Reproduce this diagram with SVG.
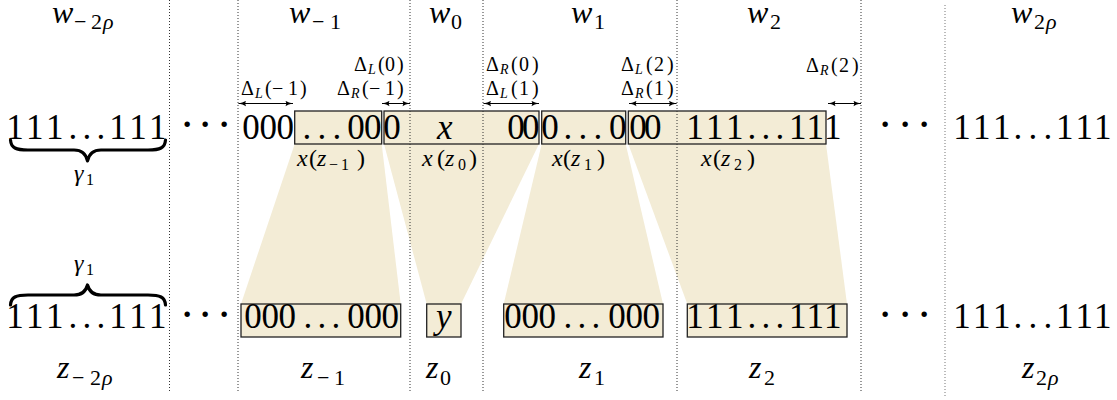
<svg xmlns="http://www.w3.org/2000/svg" width="1117" height="400" viewBox="0 0 1117 400">
<defs>
<marker id="ah" viewBox="0 0 8 6" refX="7.6" refY="3" markerWidth="8" markerHeight="6" orient="auto-start-reverse" markerUnits="userSpaceOnUse">
<path d="M0,0.2 Q3,2.4 8,3 Q3,3.6 0,5.8 Q1.6,3 0,0.2Z" fill="#000"/>
</marker>
</defs>
<rect width="1117" height="400" fill="#fff"/>

<g id="connectors" fill="#f3ecd6" stroke="none">
<polygon points="294.7,144 381.7,144 400.7,304 241,304"/>
<polygon points="384,144 539,144 461,304 426.7,304"/>
<polygon points="541.7,144 625.7,144 663,304 503.7,304"/>
<polygon points="628.3,144 826,144 847,304 687.3,304"/>
</g>

<g id="top-boxes" fill="#f3ecd6" stroke="#222" stroke-width="1.3">
<rect id="xz-1" x="294.7" y="111" width="87" height="33"/>
<rect id="xz0" x="384" y="111" width="155" height="33"/>
<rect id="xz1" x="541.7" y="111" width="84" height="33"/>
<rect id="xz2" x="628.3" y="111" width="197.7" height="33"/>
</g>
<g id="bottom-boxes" fill="#f3ecd6" stroke="#222" stroke-width="1.3">
<rect id="bz-1" x="241" y="304" width="159.7" height="33"/>
<rect id="bz0" x="426.7" y="304" width="34.3" height="33"/>
<rect id="bz1" x="503.7" y="304" width="159.3" height="33"/>
<rect id="bz2" x="687.3" y="304" width="159.7" height="33"/>
</g>

<g id="separators" stroke="#333" stroke-width="1" stroke-dasharray="1 2" fill="none">
<line x1="169.5" y1="0" x2="169.5" y2="393"/>
<line x1="238" y1="0" x2="238" y2="393"/>
<line x1="410" y1="0" x2="410" y2="393"/>
<line x1="483" y1="0" x2="483" y2="393"/>
<line x1="677" y1="0" x2="677" y2="393"/>
<line x1="861" y1="0" x2="861" y2="393"/>
<line x1="945" y1="5" x2="945" y2="397" stroke="#777"/>
</g>

<g id="dimension-arrows" stroke="#000" stroke-width="1" fill="none" marker-start="url(#ah)" marker-end="url(#ah)">
<line x1="238.5" y1="103.5" x2="293" y2="103.5"/>
<line x1="382" y1="103.5" x2="410" y2="103.5"/>
<line x1="483.5" y1="103.5" x2="539" y2="103.5"/>
<line x1="629" y1="103.5" x2="676.5" y2="103.5"/>
<line x1="828" y1="103.5" x2="861" y2="103.5"/>
</g>

<g id="braces">
<g fill="none" stroke="#000" stroke-width="3.2" stroke-linecap="round" stroke-linejoin="round">
<path d="M10.5,140 C11,148 16,150 28,150 L74,150 C82,150 86,154 87.5,161 C89,154 93,150 101,150 L148,150 C160,150 165,148 165.5,140"/>
<path d="M10.5,305 C11,297 16,295 28,295 L74,295 C82,295 86,291 87.5,285 C89,291 93,295 101,295 L148,295 C160,295 165,297 165.5,305"/>
</g>
<text style="font-family:'Liberation Serif',serif !important;font-style:italic;font-size:24px" x="74" y="181">γ<tspan style="font-family:'Liberation Serif',serif !important;font-style:normal;font-size:16px" x="86" y="185">1</tspan></text>
<text style="font-family:'Liberation Serif',serif !important;font-style:italic;font-size:24px" x="74" y="271">γ<tspan style="font-family:'Liberation Serif',serif !important;font-style:normal;font-size:16px" x="86" y="275">1</tspan></text>
</g>

<g id="w-labels">
<text style="font-family:'Liberation Serif',serif !important;font-style:italic;font-size:32px" x="52" y="23">w<tspan style="font-family:'Liberation Serif',serif !important;font-style:normal;font-size:22px" x="74" y="29">−</tspan><tspan style="font-family:'Liberation Serif',serif !important;font-style:normal;font-size:22px" x="91" y="29">2</tspan><tspan style="font-family:'Liberation Serif',serif !important;font-size:22px" x="103" y="29">ρ</tspan></text>
<text style="font-family:'Liberation Serif',serif !important;font-style:italic;font-size:32px" x="289" y="23">w<tspan style="font-family:'Liberation Serif',serif !important;font-style:normal;font-size:22px" x="312" y="29">−</tspan><tspan style="font-family:'Liberation Serif',serif !important;font-style:normal;font-size:22px" x="330" y="29">1</tspan></text>
<text style="font-family:'Liberation Serif',serif !important;font-style:italic;font-size:32px" x="429" y="23">w<tspan style="font-family:'Liberation Serif',serif !important;font-style:normal;font-size:22px" x="451" y="29">0</tspan></text>
<text style="font-family:'Liberation Serif',serif !important;font-style:italic;font-size:32px" x="571" y="23">w<tspan style="font-family:'Liberation Serif',serif !important;font-style:normal;font-size:22px" x="594" y="29">1</tspan></text>
<text style="font-family:'Liberation Serif',serif !important;font-style:italic;font-size:32px" x="747" y="23">w<tspan style="font-family:'Liberation Serif',serif !important;font-style:normal;font-size:22px" x="770" y="29">2</tspan></text>
<text style="font-family:'Liberation Serif',serif !important;font-style:italic;font-size:32px" x="1011" y="23">w<tspan style="font-family:'Liberation Serif',serif !important;font-style:normal;font-size:22px" x="1034" y="29">2</tspan><tspan style="font-family:'Liberation Serif',serif !important;font-size:22px" x="1046" y="29">ρ</tspan></text>
</g>

<g id="z-labels">
<text style="font-family:'Liberation Serif',serif !important;font-style:italic;font-size:32px" x="57" y="378">z<tspan style="font-family:'Liberation Serif',serif !important;font-style:normal;font-size:22px" x="72" y="385">−</tspan><tspan style="font-family:'Liberation Serif',serif !important;font-style:normal;font-size:22px" x="90" y="385">2</tspan><tspan style="font-family:'Liberation Serif',serif !important;font-size:22px" x="102" y="385">ρ</tspan></text>
<text style="font-family:'Liberation Serif',serif !important;font-style:italic;font-size:32px" x="301" y="378">z<tspan style="font-family:'Liberation Serif',serif !important;font-style:normal;font-size:22px" x="317" y="385">−</tspan><tspan style="font-family:'Liberation Serif',serif !important;font-style:normal;font-size:22px" x="334" y="385">1</tspan></text>
<text style="font-family:'Liberation Serif',serif !important;font-style:italic;font-size:32px" x="426" y="378">z<tspan style="font-family:'Liberation Serif',serif !important;font-style:normal;font-size:22px" x="440" y="385">0</tspan></text>
<text style="font-family:'Liberation Serif',serif !important;font-style:italic;font-size:32px" x="579" y="378">z<tspan style="font-family:'Liberation Serif',serif !important;font-style:normal;font-size:22px" x="594" y="385">1</tspan></text>
<text style="font-family:'Liberation Serif',serif !important;font-style:italic;font-size:32px" x="749" y="378">z<tspan style="font-family:'Liberation Serif',serif !important;font-style:normal;font-size:22px" x="764" y="385">2</tspan></text>
<text style="font-family:'Liberation Serif',serif !important;font-style:italic;font-size:32px" x="1022" y="378">z<tspan style="font-family:'Liberation Serif',serif !important;font-style:normal;font-size:22px" x="1036" y="385">2</tspan><tspan style="font-family:'Liberation Serif',serif !important;font-size:22px" x="1048" y="385">ρ</tspan></text>
</g>

<g id="delta-labels">
<text style="font-family:'Liberation Serif',serif !important;font-size:20px" x="241" y="95">Δ<tspan style="font-family:'Liberation Serif',serif !important;font-style:italic;font-size:14px" x="255" y="98">L</tspan><tspan style="font-family:'Liberation Serif',serif !important" x="265" y="95">(</tspan><tspan style="font-family:'Liberation Serif',serif !important" x="272" y="95">−</tspan><tspan style="font-family:'Liberation Serif',serif !important" x="288" y="95">1</tspan><tspan style="font-family:'Liberation Serif',serif !important" x="300" y="95">)</tspan></text>
<text style="font-family:'Liberation Serif',serif !important;font-size:20px" x="354" y="71">Δ<tspan style="font-family:'Liberation Serif',serif !important;font-style:italic;font-size:14px" x="368" y="74">L</tspan><tspan style="font-family:'Liberation Serif',serif !important" x="378" y="71">(</tspan><tspan style="font-family:'Liberation Serif',serif !important" x="385" y="71">0</tspan><tspan style="font-family:'Liberation Serif',serif !important" x="397" y="71">)</tspan></text>
<text style="font-family:'Liberation Serif',serif !important;font-size:20px" x="337" y="95">Δ<tspan style="font-family:'Liberation Serif',serif !important;font-style:italic;font-size:14px" x="351" y="98">R</tspan><tspan style="font-family:'Liberation Serif',serif !important" x="362" y="95">(</tspan><tspan style="font-family:'Liberation Serif',serif !important" x="369" y="95">−</tspan><tspan style="font-family:'Liberation Serif',serif !important" x="385" y="95">1</tspan><tspan style="font-family:'Liberation Serif',serif !important" x="397" y="95">)</tspan></text>
<text style="font-family:'Liberation Serif',serif !important;font-size:20px" x="486" y="71">Δ<tspan style="font-family:'Liberation Serif',serif !important;font-style:italic;font-size:14px" x="500" y="74">R</tspan><tspan style="font-family:'Liberation Serif',serif !important" x="511" y="71">(</tspan><tspan style="font-family:'Liberation Serif',serif !important" x="519" y="71">0</tspan><tspan style="font-family:'Liberation Serif',serif !important" x="532" y="71">)</tspan></text>
<text style="font-family:'Liberation Serif',serif !important;font-size:20px" x="486" y="95">Δ<tspan style="font-family:'Liberation Serif',serif !important;font-style:italic;font-size:14px" x="500" y="98">L</tspan><tspan style="font-family:'Liberation Serif',serif !important" x="511" y="95">(</tspan><tspan style="font-family:'Liberation Serif',serif !important" x="519" y="95">1</tspan><tspan style="font-family:'Liberation Serif',serif !important" x="532" y="95">)</tspan></text>
<text style="font-family:'Liberation Serif',serif !important;font-size:20px" x="621" y="71">Δ<tspan style="font-family:'Liberation Serif',serif !important;font-style:italic;font-size:14px" x="635" y="74">L</tspan><tspan style="font-family:'Liberation Serif',serif !important" x="646" y="71">(</tspan><tspan style="font-family:'Liberation Serif',serif !important" x="654" y="71">2</tspan><tspan style="font-family:'Liberation Serif',serif !important" x="667" y="71">)</tspan></text>
<text style="font-family:'Liberation Serif',serif !important;font-size:20px" x="621" y="95">Δ<tspan style="font-family:'Liberation Serif',serif !important;font-style:italic;font-size:14px" x="635" y="98">R</tspan><tspan style="font-family:'Liberation Serif',serif !important" x="646" y="95">(</tspan><tspan style="font-family:'Liberation Serif',serif !important" x="654" y="95">1</tspan><tspan style="font-family:'Liberation Serif',serif !important" x="667" y="95">)</tspan></text>
<text style="font-family:'Liberation Serif',serif !important;font-size:20px" x="806" y="72">Δ<tspan style="font-family:'Liberation Serif',serif !important;font-style:italic;font-size:14px" x="820" y="75">R</tspan><tspan style="font-family:'Liberation Serif',serif !important" x="831" y="72">(</tspan><tspan style="font-family:'Liberation Serif',serif !important" x="839" y="72">2</tspan><tspan style="font-family:'Liberation Serif',serif !important" x="852" y="72">)</tspan></text>
</g>

<g id="x-labels">
<text style="font-family:'Liberation Serif',serif !important;font-style:italic;font-size:24px" x="297" y="166">x<tspan style="font-family:'Liberation Serif',serif !important;font-style:normal" x="309" y="166">(</tspan><tspan style="font-family:'Liberation Serif',serif !important" x="317" y="166">z</tspan><tspan style="font-family:'Liberation Serif',serif !important;font-style:normal;font-size:16px" x="329" y="170">−</tspan><tspan style="font-family:'Liberation Serif',serif !important;font-style:normal;font-size:16px" x="341" y="170">1</tspan><tspan style="font-family:'Liberation Serif',serif !important;font-style:normal" x="357" y="166">)</tspan></text>
<text style="font-family:'Liberation Serif',serif !important;font-style:italic;font-size:24px" x="422" y="166">x<tspan style="font-family:'Liberation Serif',serif !important;font-style:normal" x="437" y="166">(</tspan><tspan style="font-family:'Liberation Serif',serif !important" x="445" y="166">z</tspan><tspan style="font-family:'Liberation Serif',serif !important;font-style:normal;font-size:16px" x="458" y="170">0</tspan><tspan style="font-family:'Liberation Serif',serif !important;font-style:normal" x="469" y="166">)</tspan></text>
<text style="font-family:'Liberation Serif',serif !important;font-style:italic;font-size:24px" x="552" y="166">x<tspan style="font-family:'Liberation Serif',serif !important;font-style:normal" x="563" y="166">(</tspan><tspan style="font-family:'Liberation Serif',serif !important" x="571" y="166">z</tspan><tspan style="font-family:'Liberation Serif',serif !important;font-style:normal;font-size:16px" x="584" y="170">1</tspan><tspan style="font-family:'Liberation Serif',serif !important;font-style:normal" x="597" y="166">)</tspan></text>
<text style="font-family:'Liberation Serif',serif !important;font-style:italic;font-size:24px" x="701" y="166">x<tspan style="font-family:'Liberation Serif',serif !important;font-style:normal" x="713" y="166">(</tspan><tspan style="font-family:'Liberation Serif',serif !important" x="721" y="166">z</tspan><tspan style="font-family:'Liberation Serif',serif !important;font-style:normal;font-size:16px" x="734" y="170">2</tspan><tspan style="font-family:'Liberation Serif',serif !important;font-style:normal" x="747" y="166">)</tspan></text>
</g>

<g id="top-row">
<text style="font-family:'Liberation Serif',serif !important;font-size:35px" y="139" x="6.2 26.1 46 68.6 82.6 96.6 109.2 129.2 149">111...111</text>
<text style="font-family:'Liberation Serif',serif !important;font-size:46px" y="140" x="179.5 197.5 216.5">···</text>
<text style="font-family:'Liberation Serif',serif !important;font-size:35px" y="139" x="242.3 259.4 276.5 302.6 317.6 332.6 347.3 364 383.3">000...000</text>
<text style="font-family:'Liberation Serif',serif !important;font-style:italic;font-size:35px" x="437" y="139">x</text>
<text style="font-family:'Liberation Serif',serif !important;font-size:35px" y="139" x="507.3 522">00</text>
<text style="font-family:'Liberation Serif',serif !important;font-size:35px" y="139" x="541.3 563.6 578.6 593.6 609">0...0</text>
<text style="font-family:'Liberation Serif',serif !important;font-size:35px" y="139" x="629.3 644">00</text>
<text style="font-family:'Liberation Serif',serif !important;font-size:35px" y="139" x="686.2 706 726 747.6 761.6 775.6 789 806.5 824.1">111...111</text>
<text style="font-family:'Liberation Serif',serif !important;font-size:46px" y="140" x="877.5 897.5 916.5">···</text>
<text style="font-family:'Liberation Serif',serif !important;font-size:35px" y="139" x="953.2 973 993 1013.6 1028.6 1043.6 1056 1075.5 1094">111...111</text>
</g>

<g id="bottom-row">
<text style="font-family:'Liberation Serif',serif !important;font-size:35px" y="328" x="6.2 26.1 46 68.6 82.6 96.6 109.2 129.2 149">111...111</text>
<text style="font-family:'Liberation Serif',serif !important;font-size:46px" y="330" x="179.5 197.5 216.5">···</text>
<text style="font-family:'Liberation Serif',serif !important;font-size:35px" y="328" x="244.3 261.4 278.5 303.6 317.6 331.6 347.3 364.4 381.5">000...000</text>
<text style="font-family:'Liberation Serif',serif !important;font-style:italic;font-size:35px" x="436" y="328">y</text>
<text style="font-family:'Liberation Serif',serif !important;font-size:35px" y="328" x="504.3 521.4 538.5 563.6 577.6 591.6 608.3 625.4 642.5">000...000</text>
<text style="font-family:'Liberation Serif',serif !important;font-size:35px" y="328" x="686.2 706 726 747.6 761.6 775.6 789 806.5 824.1">111...111</text>
<text style="font-family:'Liberation Serif',serif !important;font-size:46px" y="330" x="877.5 897.5 916.5">···</text>
<text style="font-family:'Liberation Serif',serif !important;font-size:35px" y="328" x="953.2 973 993 1013.6 1028.6 1043.6 1056 1075.5 1094">111...111</text>
</g>
</svg>
